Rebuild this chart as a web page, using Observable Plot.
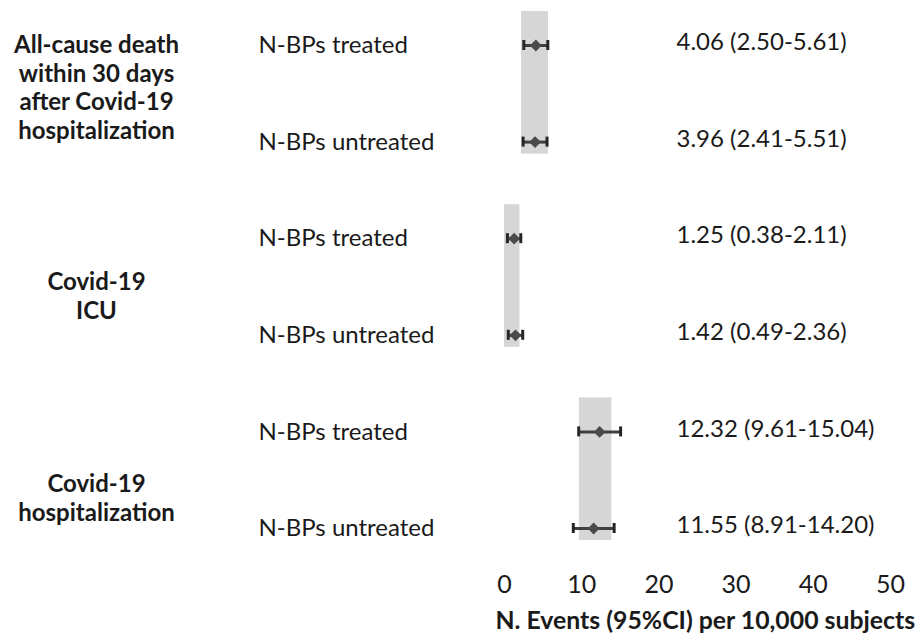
<!DOCTYPE html>
<html>
<head>
<meta charset="utf-8">
<script src="https://cdn.jsdelivr.net/npm/d3@7"></script>
<script src="https://cdn.jsdelivr.net/npm/@observablehq/plot@0.6"></script>
<style>
  html, body { margin: 0; padding: 0; background: #ffffff; overflow: hidden; }
  #chart svg { display: block; }
</style>
</head>
<body>
<div id="chart"></div>
<script>
// ---- data ----
const groupLabels = [
  "All-cause death\nwithin 30 days\nafter Covid-19\nhospitalization",
  "Covid-19\nICU",
  "Covid-19\nhospitalization"
];
const rowLabels = [
  "N-BPs treated", "N-BPs untreated",
  "N-BPs treated", "N-BPs untreated",
  "N-BPs treated", "N-BPs untreated"
];
const estimates = [4.06, 3.96, 1.25, 1.42, 12.32, 11.55];
const lowerCI   = [2.50, 2.41, 0.38, 0.49, 9.61, 8.91];
const upperCI   = [5.61, 5.51, 2.11, 2.36, 15.04, 14.20];
const bandLow   = [2.2, 0.0, 9.7];
const bandHigh  = [5.7, 2.0, 13.9];
const xTicks    = [0, 10, 20, 30, 40, 50];
const xLabel    = "N. Events (95%CI) per 10,000 subjects";

// ---- tables built from the arrays ----
const rows = rowLabels.map((label, i) => ({
  i, label, est: estimates[i], lo: lowerCI[i], hi: upperCI[i],
  text: `${estimates[i].toFixed(2)} (${lowerCI[i].toFixed(2)}-${upperCI[i].toFixed(2)})`
}));
const bands = bandLow.map((lo, g) => ({g, lo, hi: bandHigh[g], first: 2 * g, last: 2 * g + 1}));
const groups = groupLabels.map((label, g) => ({g, label, mid: 2 * g + 0.5}));
const groupDy = [-7, 8, 17];

const font = "Lato, 'Open Sans', sans-serif";
const ink = "#1a1a1a";

const chart = Plot.plot({
  width: 921,
  height: 641,
  marginTop: 0,
  marginRight: 0,
  marginLeft: 0,
  marginBottom: 76,
  style: {fontFamily: font, fontSize: "24px", color: ink, background: "#ffffff"},
  x: {domain: [0, 50], range: [504, 890], ticks: xTicks, tickSize: 0, tickPadding: 10, label: null},
  y: {domain: [0, 5], range: [45, 528], axis: null},
  marks: [
    // grey reference bands
    Plot.rectX(bands, {x1: "lo", x2: "hi", y1: "first", y2: "last", fill: "#d6d6d6", insetTop: -34, insetBottom: -12}),
    // CI lines
    Plot.link(rows, {x1: "lo", x2: "hi", y1: "i", y2: "i", stroke: "#3f3f3f", strokeWidth: 3}),
    // CI caps
    Plot.ruleX(rows, {x: "lo", y1: "i", y2: "i", stroke: "#262626", strokeWidth: 3, insetTop: -5, insetBottom: -5}),
    Plot.ruleX(rows, {x: "hi", y1: "i", y2: "i", stroke: "#262626", strokeWidth: 3, insetTop: -5, insetBottom: -5}),
    // point estimates
    Plot.dot(rows, {x: "est", y: "i", symbol: "diamond2", r: 5.3, fill: "#4a4a4a", stroke: "none"}),
    // row labels
    Plot.text(rows, {y: "i", text: "label", frameAnchor: "left", dx: 258, textAnchor: "start", fill: ink, fontSize: 24}),
    // value labels
    Plot.text(rows, {y: "i", text: "text", frameAnchor: "left", dx: 676, dy: -3, textAnchor: "start", fill: ink, fontSize: 24}),
    // group labels
    ...groups.map(gr => Plot.text([gr], {
      y: "mid", text: "label", frameAnchor: "left", dx: 96, dy: groupDy[gr.g],
      textAnchor: "middle", lineHeight: 1.2, fontWeight: "bold", fill: ink, fontSize: 24
    })),
    // x axis
    Plot.axisX({ticks: xTicks, tickSize: 0, tickPadding: 10, label: null, fill: ink, fontSize: 25}),
    // axis title (below the frame)
    Plot.text([xLabel], {text: d => d, frameAnchor: "bottom-left", dx: 495, dy: 63, textAnchor: "start", fontWeight: "bold", fill: ink, fontSize: 24.8})
  ]
});
document.getElementById("chart").append(chart);
</script>
</body>
</html>
